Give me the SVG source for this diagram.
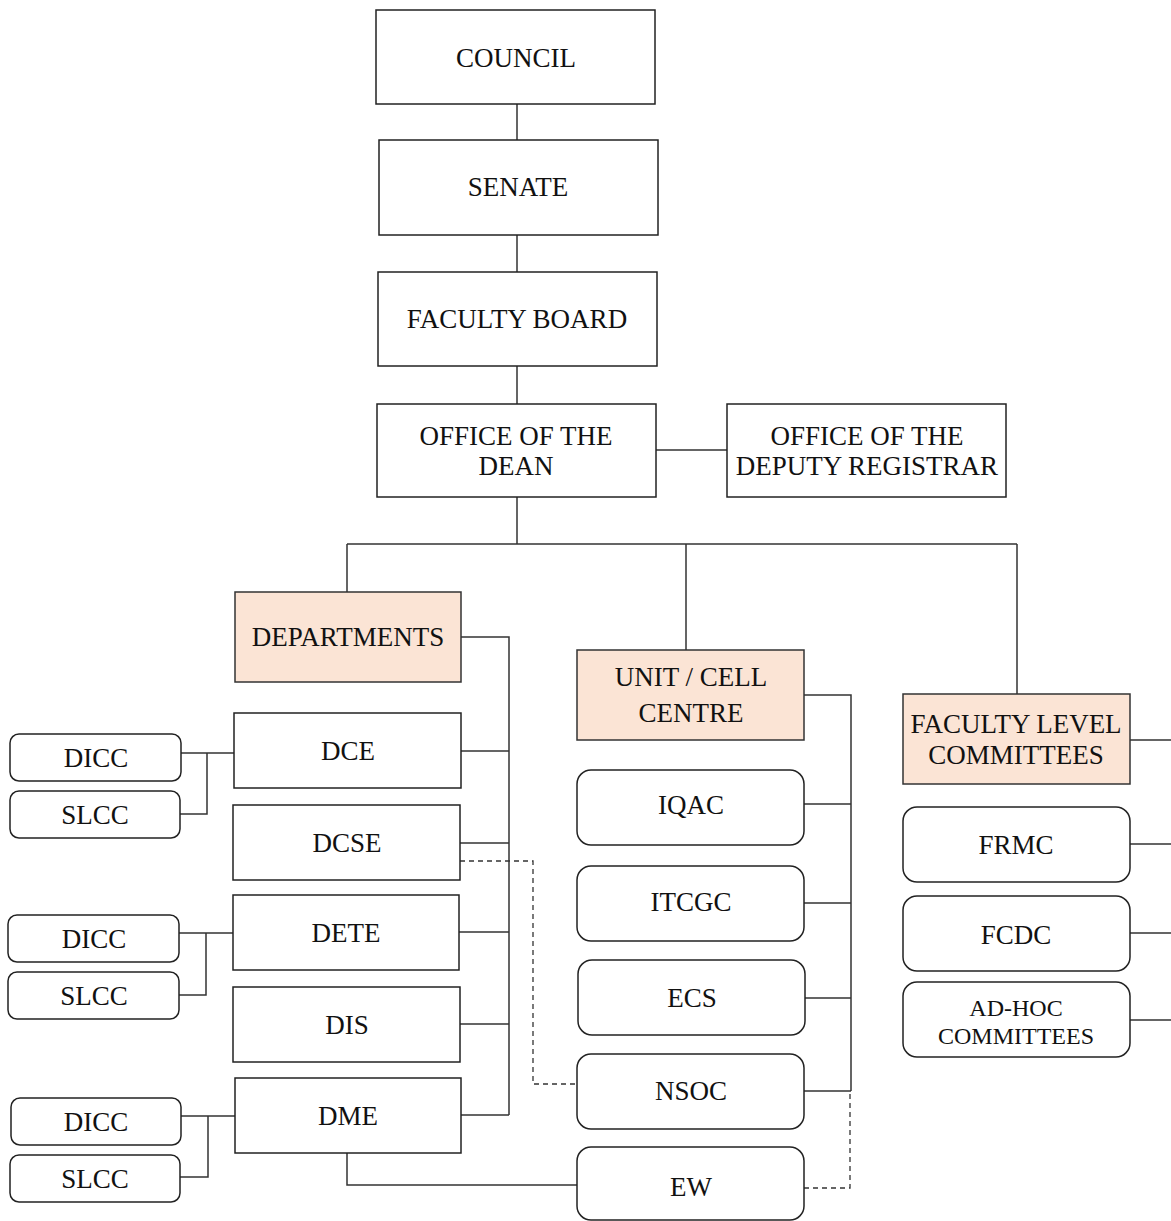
<svg xmlns="http://www.w3.org/2000/svg" width="1171" height="1221" viewBox="0 0 1171 1221">
<style>
.b{fill:#fff;stroke:#222;stroke-width:1.5}
.p{fill:#fbe4d5;stroke:#333;stroke-width:1.5}
.t{font-family:"Liberation Serif",serif;font-size:27px;fill:#111;text-anchor:middle}
.s{font-size:24px}
.c{fill:none;stroke:#333;stroke-width:1.5}
.d{fill:none;stroke:#333;stroke-width:1.3;stroke-dasharray:5 4}
</style>
<rect width="1171" height="1221" fill="#fff"/>
<g id="connectors">
<path class="c" d="M517 104V140M517 235V272M517 366V404M656 450H727M517 497V544M347 544H1017M347 544V592M686 544V650M1017 544V694"/>
<path class="c" d="M461 637H509V1115M461 751H509M460 843H509M459 932H509M460 1024H509M461 1115H509"/>
<path class="c" d="M347 1153V1185H578"/>
<path class="c" d="M181 753H234M207 753V814H180M179 933H233M206 933V995H179M181 1116H235M208 1116V1177H180"/>
<path class="c" d="M804 695H851V1091M804 804H851M804 903H851M805 998H851M804 1091H851"/>
<path class="c" d="M1130 740H1171M1130 844H1171M1130 933H1171M1130 1020H1171"/>
<path class="d" d="M460 861H533V1084H578"/>
<path class="d" d="M804 1188H850V1091"/>
</g>
<g id="council"><rect class="b" x="376" y="10" width="279" height="94"/><text class="t" x="516" y="67">COUNCIL</text></g>
<g id="senate"><rect class="b" x="379" y="140" width="279" height="95"/><text class="t" x="518" y="196">SENATE</text></g>
<g id="faculty-board"><rect class="b" x="378" y="272" width="279" height="94"/><text class="t" x="517" y="328">FACULTY BOARD</text></g>
<g id="dean"><rect class="b" x="377" y="404" width="279" height="93"/><text class="t" x="516" y="445">OFFICE OF THE</text><text class="t" x="516" y="475">DEAN</text></g>
<g id="deputy-registrar"><rect class="b" x="727" y="404" width="279" height="93"/><text class="t" x="867" y="445">OFFICE OF THE</text><text class="t" x="867" y="475">DEPUTY REGISTRAR</text></g>
<g id="departments"><rect class="p" x="235" y="592" width="226" height="90"/><text class="t" x="348" y="646">DEPARTMENTS</text></g>
<g id="dce"><rect class="b" x="234" y="713" width="227" height="75"/><text class="t" x="348" y="760">DCE</text></g>
<g id="dcse"><rect class="b" x="233" y="805" width="227" height="75"/><text class="t" x="347" y="852">DCSE</text></g>
<g id="dete"><rect class="b" x="233" y="895" width="226" height="75"/><text class="t" x="346" y="942">DETE</text></g>
<g id="dis"><rect class="b" x="233" y="987" width="227" height="75"/><text class="t" x="347" y="1034">DIS</text></g>
<g id="dme"><rect class="b" x="235" y="1078" width="226" height="75"/><text class="t" x="348" y="1125">DME</text></g>
<g id="dicc1"><rect class="b" x="10" y="734" width="171" height="47" rx="9"/><text class="t" x="96" y="767">DICC</text></g>
<g id="slcc1"><rect class="b" x="10" y="791" width="170" height="47" rx="9"/><text class="t" x="95" y="824">SLCC</text></g>
<g id="dicc2"><rect class="b" x="8" y="915" width="171" height="47" rx="9"/><text class="t" x="94" y="948">DICC</text></g>
<g id="slcc2"><rect class="b" x="8" y="972" width="171" height="47" rx="9"/><text class="t" x="94" y="1005">SLCC</text></g>
<g id="dicc3"><rect class="b" x="11" y="1098" width="170" height="47" rx="9"/><text class="t" x="96" y="1131">DICC</text></g>
<g id="slcc3"><rect class="b" x="10" y="1155" width="170" height="47" rx="9"/><text class="t" x="95" y="1188">SLCC</text></g>
<g id="unit-cell-centre"><rect class="p" x="577" y="650" width="227" height="90"/><text class="t" x="691" y="686">UNIT / CELL</text><text class="t" x="691" y="722">CENTRE</text></g>
<g id="iqac"><rect class="b" x="577" y="770" width="227" height="75" rx="14"/><text class="t" x="691" y="814">IQAC</text></g>
<g id="itcgc"><rect class="b" x="577" y="866" width="227" height="75" rx="14"/><text class="t" x="691" y="911">ITCGC</text></g>
<g id="ecs"><rect class="b" x="578" y="960" width="227" height="75" rx="14"/><text class="t" x="692" y="1007">ECS</text></g>
<g id="nsoc"><rect class="b" x="577" y="1054" width="227" height="75" rx="14"/><text class="t" x="691" y="1100">NSOC</text></g>
<g id="ew"><rect class="b" x="577" y="1147" width="227" height="73" rx="14"/><text class="t" x="691" y="1196">EW</text></g>
<g id="faculty-level-committees"><rect class="p" x="903" y="694" width="227" height="90"/><text class="t" x="1016" y="733">FACULTY LEVEL</text><text class="t" x="1016" y="764">COMMITTEES</text></g>
<g id="frmc"><rect class="b" x="903" y="807" width="227" height="75" rx="14"/><text class="t" x="1016" y="854">FRMC</text></g>
<g id="fcdc"><rect class="b" x="903" y="896" width="227" height="75" rx="14"/><text class="t" x="1016" y="944">FCDC</text></g>
<g id="ad-hoc-committees"><rect class="b" x="903" y="982" width="227" height="75" rx="14"/><text class="t s" x="1016" y="1016">AD-HOC</text><text class="t s" x="1016" y="1044">COMMITTEES</text></g>
</svg>
